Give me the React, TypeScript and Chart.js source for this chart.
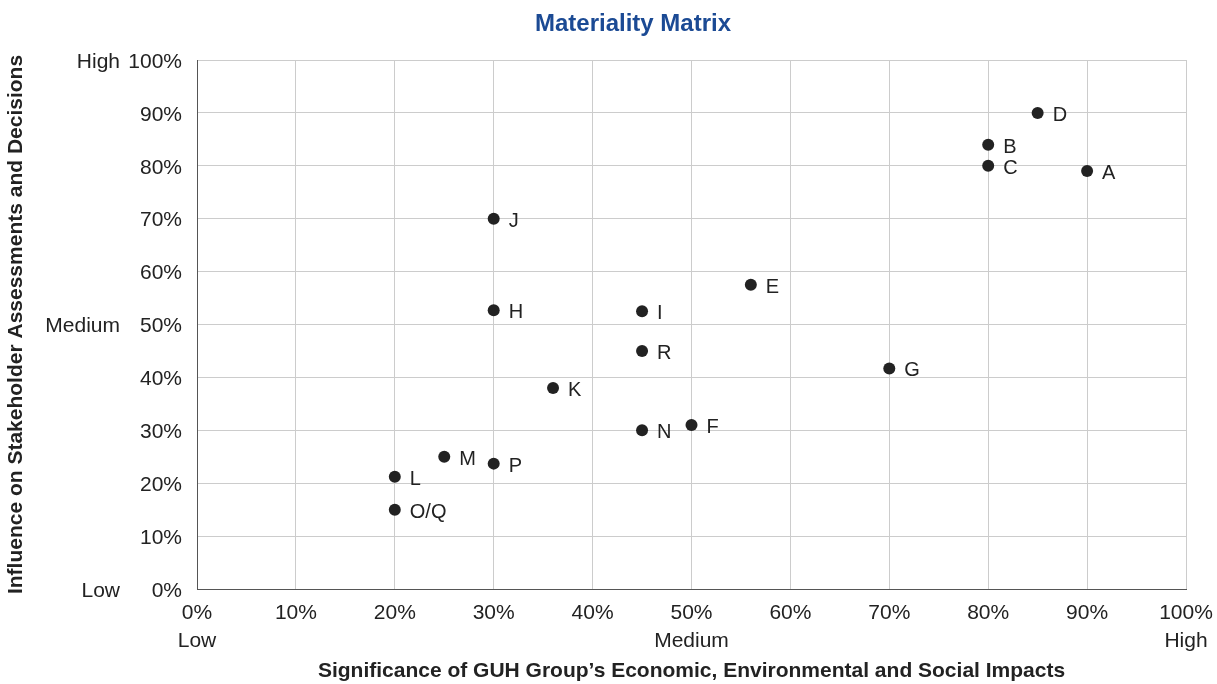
import React, { useEffect, useRef } from "react";
import { Chart, registerables } from "chart.js";

Chart.register(...registerables);

// Material topics and their scores (percent)
const topics = ["A", "B", "C", "D", "E", "F", "G", "H", "I", "J", "K", "L", "M", "N", "O/Q", "P", "R"];
const significance = [90, 80, 80, 85, 56, 50, 70, 30, 45, 30, 36, 20, 25, 45, 20, 30, 45];
const influence = [79, 84, 80, 90, 57.5, 31, 41.7, 52.7, 52.5, 70, 38, 21.2, 25, 30, 15, 23.7, 45];

// Qualitative levels shown beside the percentage ticks
const levelValues = [0, 50, 100];
const levelNames = ["Low", "Medium", "High"];

const chartTitle = "Materiality Matrix";

const FONT = "'Liberation Sans', Arial, Helvetica, sans-serif";
const TEXT = "#222222";

const titleText = {
  id: "titleText",
  afterDraw(chart: any) {
    const ctx = chart.ctx;
    ctx.save();
    ctx.font = `bold 24px ${FONT}`;
    ctx.fillStyle = "#1b4a94";
    ctx.textAlign = "center";
    ctx.textBaseline = "middle";
    ctx.fillText(chartTitle, 633, 24);
    ctx.restore();
  },
};

const pointLabels = {
  id: "pointLabels",
  afterDatasetsDraw(chart: any) {
    const ctx = chart.ctx;
    const meta = chart.getDatasetMeta(0);
    ctx.save();
    ctx.font = `20px ${FONT}`;
    ctx.fillStyle = TEXT;
    ctx.textAlign = "left";
    ctx.textBaseline = "middle";
    meta.data.forEach((pt: any, i: number) => {
      ctx.fillText(topics[i], pt.x + 15, pt.y + 2.5);
    });
    ctx.restore();
  },
};

const levelLabels = {
  id: "levelLabels",
  afterDraw(chart: any) {
    const ctx = chart.ctx;
    const y = chart.scales.y;
    ctx.save();
    ctx.font = `21px ${FONT}`;
    ctx.fillStyle = TEXT;
    ctx.textAlign = "right";
    ctx.textBaseline = "middle";
    levelValues.forEach((v, i) => {
      ctx.fillText(levelNames[i], 120, y.getPixelForValue(v) + 2);
    });
    ctx.restore();
  },
};

export default function App() {
  const ref = useRef<HTMLCanvasElement>(null);

  useEffect(() => {
    if (!ref.current) return;
    const chart = new Chart(ref.current, {
      type: "scatter",
      data: {
        datasets: [
          {
            data: significance.map((x, i) => ({ x, y: influence[i] })),
            backgroundColor: "#222222",
            borderWidth: 0,
            pointRadius: 6,
          },
        ],
      },
      options: {
        responsive: false,
        animation: false,
        layout: { padding: { left: 0, right: 31, top: 60, bottom: 0 } },
        plugins: {
          legend: { display: false },
          tooltip: { enabled: false },
          title: { display: false },
        },
        scales: {
          x: {
            type: "linear",
            min: 0,
            max: 100,
            ticks: {
              stepSize: 10,
              padding: 10,
              color: TEXT,
              font: { family: FONT, size: 21, lineHeight: 1.35 },
              maxRotation: 0,
              callback: (v: any) => {
                const s = `${v}%`;
                const idx = levelValues.indexOf(Number(v));
                return idx >= 0 ? [s, levelNames[idx]] : s;
              },
            },
            grid: { color: "#cccccc", lineWidth: 1, drawTicks: false },
            border: { color: "#555555", width: 1 },
            title: {
              display: true,
              text: "Significance of GUH Group’s Economic, Environmental and Social Impacts",
              color: TEXT,
              font: { family: FONT, size: 21, weight: "bold", lineHeight: 1.2 },
              padding: { top: 0, bottom: 0 },
            },
            afterFit: (scale: any) => {
              scale.height = 95;
              scale.paddingLeft = 0;
              scale.paddingRight = 0;
            },
          },
          y: {
            type: "linear",
            min: 0,
            max: 100,
            ticks: {
              stepSize: 10,
              padding: 15,
              labelOffset: 2,
              color: TEXT,
              font: { family: FONT, size: 21, lineHeight: 1.2 },
              callback: (v: any) => `${v}%`,
            },
            grid: { color: "#cccccc", lineWidth: 1, drawTicks: false },
            border: { color: "#555555", width: 1 },
            title: {
              display: true,
              text: "Influence on Stakeholder Assessments and Decisions",
              color: TEXT,
              font: { family: FONT, size: 21, weight: "bold", lineHeight: 1.2 },
              padding: { top: 3.5, bottom: 0 },
            },
            afterFit: (scale: any) => {
              scale.width = 197;
              scale.paddingTop = 0;
              scale.paddingBottom = 0;
            },
          },
        },
      } as any,
      plugins: [titleText, pointLabels, levelLabels],
    });
    return () => chart.destroy();
  }, []);

  return (
    <canvas
      ref={ref}
      width={1217}
      height={684}
      style={{ position: "fixed", left: 0, top: 0, width: 1217, height: 684, background: "#ffffff" }}
    />
  );
}
